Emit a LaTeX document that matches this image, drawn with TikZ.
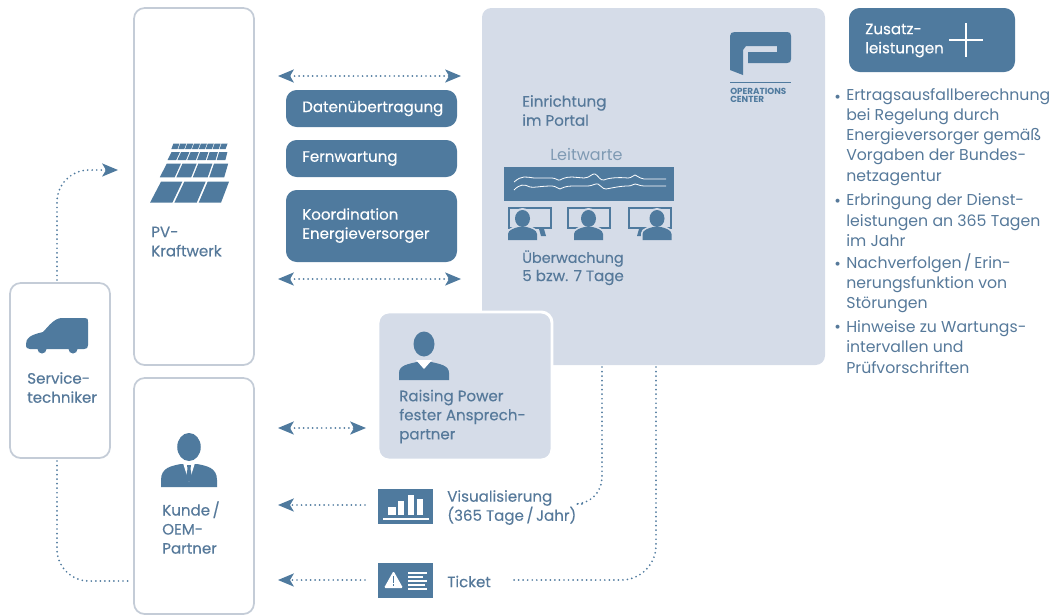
\documentclass[tikz,border=0pt]{standalone}
\usepackage{fontspec}
\setmainfont{Poppins}
\newfontfamily\med[FakeBold=0.35]{Poppins}
\newfontfamily\semi[FakeBold=0.12]{Poppins}
\usetikzlibrary{arrows.meta}
\definecolor{dk}{HTML}{4F7A9E}
\definecolor{txt}{HTML}{56799A}
\definecolor{pan}{HTML}{D5DCE8}
\definecolor{edge}{HTML}{C4CCD7}
\definecolor{soft}{HTML}{7F9AB3}
\newcommand\rbox[6]{\node[#6,minimum width={(#4-#2)*0.75pt},minimum height={(#5-#3)*0.75pt},inner sep=0pt,outer sep=0pt] (#1) at ({(#2+#4)/2},{(#3+#5)/2}) {};}
\newcommand\rpcells[8]{% n, y top, y bottom, left top, left bottom, right top, right bottom, gap
  \foreach \i in {1,...,#1}{
    \pgfmathsetmacro\aT{#4+(#6-#4)*(\i-1)/#1+#8/2}
    \pgfmathsetmacro\bT{#4+(#6-#4)*\i/#1-#8/2}
    \pgfmathsetmacro\aB{#5+(#7-#5)*(\i-1)/#1+#8/2}
    \pgfmathsetmacro\bB{#5+(#7-#5)*\i/#1-#8/2}
    \fill[dk] (\aT,#2) -- (\bT,#2) -- (\bB,#3) -- (\aB,#3) -- cycle;
  }}
\newcommand\rpbust[5]{% cx, head y, shoulders top, bottom, half width
  \fill[dk] (#1,#2) ellipse [x radius=#5*0.42,y radius=#5*0.5];
  \fill[dk] (#1-#5,#4) -- (#1-#5,#4-7) .. controls (#1-#5,#3+3) and (#1-#5*0.6,#3+2) .. (#1-#5*0.3,#3) -- (#1+#5*0.3,#3) .. controls (#1+#5*0.6,#3+2) and (#1+#5,#3+3) .. (#1+#5,#4-7) -- (#1+#5,#4) -- cycle;}
\tikzset{
  frame/.style={draw=edge,line width=1.3pt,fill=white,rounded corners=8pt},
  pill/.style={fill=dk,rounded corners=8pt},
  dots/.style={draw=dk,line width=1.45pt,line cap=round,dash pattern=on 0pt off 3.4pt},
  head/.style={-{Stealth[length=12pt,width=10pt,inset=3pt,color=dk,fill=dk,line width=0pt]}},
  bothhead/.style={{Stealth[length=12pt,width=10pt,inset=3pt,color=dk,fill=dk,line width=0pt]}-{Stealth[length=12pt,width=10pt,inset=3pt,color=dk,fill=dk,line width=0pt]}},
  lab/.style={text=txt,font=\med\fontsize{11.3pt}{14.3pt}\selectfont,align=left,anchor=west,inner sep=0pt,yshift=-0.4pt},
  wlab/.style={lab,text=white},
  plain/.style={lab,font=\semi\fontsize{11.3pt}{14.3pt}\selectfont},
  bul/.style={text=txt,font=\fontsize{11.8pt}{15.2pt}\selectfont,align=left,anchor=west,inner sep=0pt,yshift=-1pt},
  bulm/.style={bul,font=\fontsize{12pt}{12pt}\selectfont,yshift=-2pt},
}
\begin{document}
\begin{tikzpicture}[x=0.75pt,y=-0.75pt]
\useasboundingbox (0,0) rectangle (1057,615);
% boxes
\rbox{pv}{134}{8}{254}{365}{frame}
\rbox{kunde}{134}{378}{254}{614}{frame}
\rbox{svc}{10}{283}{110}{458}{frame}
\rbox{ops}{482}{8}{825}{365}{fill=pan,rounded corners=7pt}
\rbox{rp}{378}{312}{552}{460}{fill=pan,draw=white,line width=2.2pt,rounded corners=8pt}
\rbox{zus}{849}{8}{1015}{72}{pill}
\rbox{d1}{286}{90}{457}{127}{pill}
\rbox{d2}{286}{140}{457}{177}{pill}
\rbox{d3}{286}{190}{457}{262}{pill}
\rbox{viz}{378}{489}{433}{524}{fill=dk}
\rbox{tick}{378}{563}{433}{598}{fill=dk}
\rbox{bar}{504}{167}{674}{201}{fill=dk}
% coordinates for connectors
\coordinate (a1) at (278,76); \coordinate (a2) at (461,76);
\coordinate (b1) at (278,279); \coordinate (b2) at (461,279);
\coordinate (c1) at (278,428); \coordinate (c2) at (366,428);
\coordinate (e1) at (278,505); \coordinate (e2) at (365,505);
\coordinate (f1) at (278,580); \coordinate (f2) at (365,580);
\coordinate (up) at (57,280); \coordinate (upend) at (118,170);
\coordinate (dn) at (57,461); \coordinate (dnend) at (130,581);
\coordinate (v1) at (602,367); \coordinate (v2) at (582,504);
\coordinate (t1) at (656,367); \coordinate (t2) at (512,580);
\draw[dots,bothhead] (a1) -- (a2);
\draw[dots,bothhead] (b1) -- (b2);
\draw[dots,bothhead] (c1) -- (c2);
\draw[dots,head] (e2) -- (e1);
\draw[dots,head] (f2) -- (f1);
\draw[dots,head,rounded corners=24pt] (up) |- (upend);
\draw[dots,rounded corners=24pt] (dn) |- (dnend);
\draw[dots,rounded corners=20pt] (v1) |- (v2);
\draw[dots,rounded corners=26pt] (t1) |- (t2);
% solar panel
\rpcells{3}{181.7}{202.7}{160}{149}{230}{222}{2}
\rpcells{4}{163.5}{177.3}{166}{159}{229}{225}{1.6}
\rpcells{6}{152}{160}{171}{167}{228}{226}{1.2}
\rpcells{8}{143.5}{149}{173}{171}{228}{226}{0.8}
% van
\fill[dk] (26,344) .. controls (26,338) and (30,335) .. (43,332) .. controls (48,327) and (54,318) .. (62,318) -- (85,318) .. controls (88,318) and (88,319) .. (88,322) -- (88,345) .. controls (88,348) and (87,349) .. (84,349) -- (30,349) .. controls (27,349) and (26,348) .. (26,344) -- cycle;
\fill[dk] (42,349) circle [radius=4.5];
\fill[dk] (73,349) circle [radius=4.5];
% Kunde icon
\rpbust{189}{447}{464}{487}{28}
\fill[white] (183,463) -- (195,463) -- (189,482) -- cycle;
\fill[dk] (187,465) -- (191,465) -- (190.5,469) -- (192,477) -- (189,482) -- (186,477) -- (187.5,469) -- cycle;
% Raising icon
\rpbust{424}{344}{362}{380}{25}
\fill[white] (416,360) -- (432,360) -- (424,369) -- cycle;
% logo
\fill[dk] (730,36) .. controls (730,33) and (732,32) .. (735,32) -- (787,32) .. controls (790,32) and (791,33) .. (791,36) -- (791,59) .. controls (791,62) and (790,63) .. (787,63) -- (748,63) -- (748,52) -- (777,52) -- (777,46) -- (746,46) -- (743,50) -- (743,75) -- (730,70) -- cycle;
\draw[dk,line width=0.9pt] (730,82.5) -- (791,82.5);
\node[inner sep=0pt,anchor=west,align=left,text=dk,font=\bfseries\fontsize{6.6pt}{5.6pt}\selectfont] (logot) at (730,95.5) {OPERATIONS\\CENTER};
% plus
\draw[white,line width=1.1pt] (949,40) -- (983,40);
\draw[white,line width=1.1pt] (966,23) -- (966,57);
% chart
\fill[white] (388,507) rectangle (396,515);
\fill[white] (398,501) rectangle (404,515);
\fill[white] (408,495) rectangle (414,515);
\fill[white] (417,499) rectangle (423,515);
\fill[white] (383,518) rectangle (429,519.5);
% ticket
\fill[white,rounded corners=1pt] (384,588) -- (403,588) -- (393.5,571) -- cycle;
\fill[dk] (392.6,576) rectangle (394.4,583);
\fill[dk] (392.6,584.2) rectangle (394.4,586.2);
\foreach \yy/\xe in {572/427,576/423,580/427,584/425,588/427}{\fill[white] (408,\yy) rectangle (\xe,\yy+1.6);}
% wave
\draw[white,line width=0.6pt] (514,182) .. controls (522,175) and (526,177) .. (534,178) -- (552,178) .. controls (556,178) and (558,181) .. (560,180) .. controls (562,179) and (565,177) .. (572,177) -- (584,178) .. controls (590,178) and (592,173) .. (595,174) .. controls (598,175) and (600,181) .. (604,180) .. controls (608,178) and (618,177) .. (628,178) .. controls (632,178) and (633,175) .. (635,175) .. controls (637,175) and (638,178) .. (644,179) -- (666,179);
\draw[white,line width=0.6pt] (514,190) .. controls (520,184) and (524,184) .. (530,187) .. controls (534,188) and (540,186) .. (552,186) .. controls (556,186) and (558,189) .. (560,189) .. controls (562,188) and (566,186) .. (572,186) -- (588,186) .. controls (592,186) and (596,183) .. (598,184) .. controls (601,185) and (602,189) .. (606,189) .. controls (612,188) and (620,186) .. (628,186) .. controls (632,186) and (633,184) .. (635,184) .. controls (637,184) and (640,186) .. (644,186) -- (666,186);
% monitors
\foreach \mx in {509,568,629}{
  \draw[dk,line width=1.8pt] (\mx,208) rectangle (\mx+42,228);
}
\fill[dk] (539,229) -- (544,229) -- (546,236) -- (541,236) -- cycle;
\fill[dk] (644,229) -- (639,229) -- (637,236) -- (642,236) -- cycle;
\foreach \pc/\hw in {522.5/14.5,588.5/14.5,657/14.5}{
  \fill[pan] (\pc,218) ellipse [x radius=9,y radius=10];
  \fill[pan] (\pc-\hw-1.5,240) -- (\pc-\hw-1.5,233) .. controls (\pc-\hw-1.5,228) and (\pc-6,226) .. (\pc-4,225) -- (\pc+4,225) .. controls (\pc+6,226) and (\pc+\hw+1.5,228) .. (\pc+\hw+1.5,233) -- (\pc+\hw+1.5,240) -- cycle;
  \fill[dk] (\pc,218.5) ellipse [x radius=7.5,y radius=8.5];
  \fill[dk] (\pc-\hw,240) -- (\pc-\hw,234) .. controls (\pc-\hw,230) and (\pc-8,228) .. (\pc-4,227) -- (\pc+4,227) .. controls (\pc+8,228) and (\pc+\hw,230) .. (\pc+\hw,234) -- (\pc+\hw,240) -- cycle;
}
% texts
\node[wlab] (td1) at (302,108) {Datenübertragung};
\node[wlab] (td2) at (302,158) {Fernwartung};
\node[wlab] (td3) at (302,225) {Koordination\\Energieversorger};
\node[wlab] (tz) at (865,40) {Zusatz-\\leistungen};
\node[lab] (te) at (522,110) {Einrichtung\\im Portal};
\node[plain,text=soft,font=\fontsize{12pt}{14.3pt}\selectfont] (tl) at (550,154) {Leitwarte};
\node[lab,font=\med\fontsize{10.8pt}{14.3pt}\selectfont] (tu) at (522,258) {Überwachung};
\node[plain] (tu2) at (522,277) {5 bzw. 7 Tage};
\node[lab] (tpv) at (151,241) {PV-\\Kraftwerk};
\node[lab] (tsv) at (27,387) {Service-\\techniker};
\node[lab] (tk) at (162,527) {Kunde\,/\\OEM-\\Partner};
\node[lab] (tr1) at (399,397) {Raising Power};
\node[plain] (tr2) at (399,425.5) {fester Ansprech-\\partner};
\node[plain] (tv) at (447,507) {Visualisierung\\(365 Tage\,/\,Jahr)};
\node[lab] (tt) at (447,581) {Ticket};
\node[bulm] (bl1) at (834,95) {•};
\node[bulm] (bl2) at (834,199) {•};
\node[bulm] (bl3) at (834,262) {•};
\node[bulm] (bl4) at (834,325) {•};
\node[bul] (b1t) at (846,135.5) {Ertragsausfallberechnung\\bei Regelung durch\\Energieversorger gemäß\\Vorgaben der Bundes-\\netzagentur};
\node[bul] (b2t) at (846,219) {Erbringung der Dienst-\\leistungen an 365 Tagen\\im Jahr};
\node[bul] (b3t) at (846,282) {Nachverfolgen\,/\,Erin-\\nerungsfunktion von\\Störungen};
\node[bul] (b4t) at (846,345.5) {Hinweise zu Wartungs-\\intervallen und\\Prüfvorschriften};
\end{tikzpicture}
\end{document}
